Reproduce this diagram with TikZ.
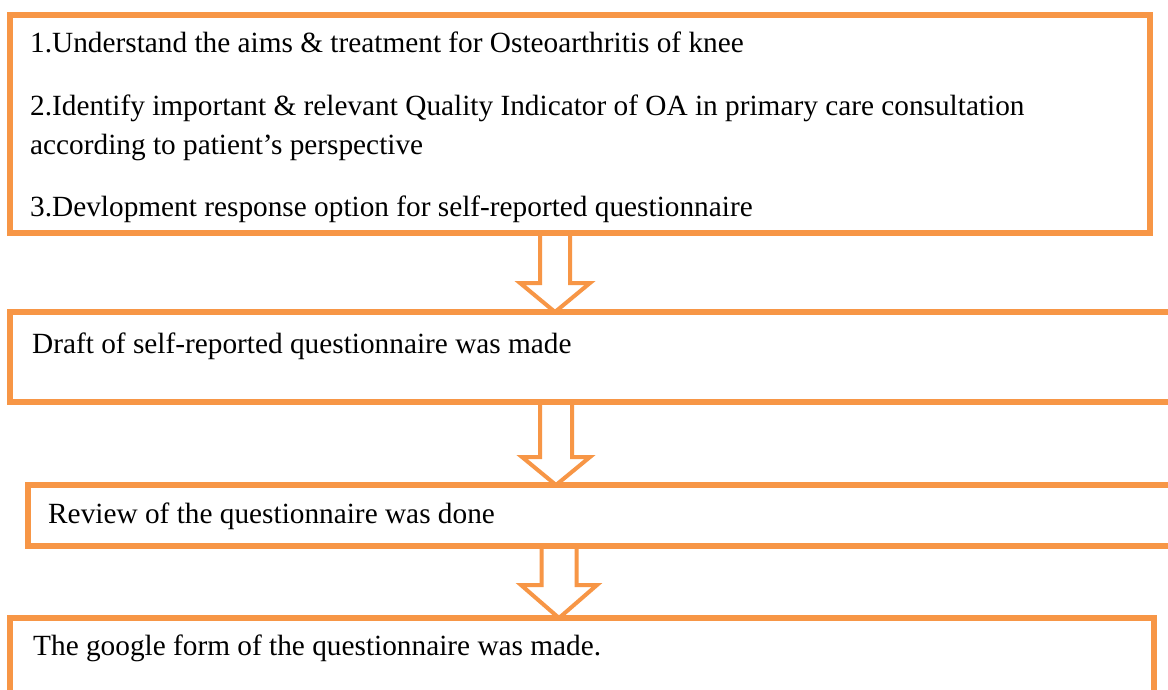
\documentclass[tikz,border=0pt]{standalone}
\usepackage{fontspec}
\setmainfont{Liberation Serif}
\newfontfamily\timesfont{Liberation Serif}
\usetikzlibrary{calc}
\definecolor{boxorange}{HTML}{F79646}
\tikzset{
  flowbox/.style={draw=boxorange, line width=6pt, rectangle, inner sep=0pt, outer sep=0pt, fill=none},
  flowtext/.style={anchor=base west, inner sep=0pt, font=\timesfont\fontsize{29.3}{34}\selectfont, text=black},
  blockarrow/.style={draw=boxorange, line width=4pt, fill=white, line join=miter}
}
% #1 x, #2 from node, #3 to node, #4 half shaft, #5 half head, #6 head length
\newcommand{\myblockarrow}[6]{%
  \path (#1,0) coordinate (ax);
  \draw[blockarrow]
    ($(ax |- #2.south)+(-#4,0)$) -- ($(ax |- #3.north)+(-#4,-#6)$) -- ($(ax |- #3.north)+(-#5,-#6)$)
    -- (ax |- #3.north) -- ($(ax |- #3.north)+(#5,-#6)$) -- ($(ax |- #3.north)+(#4,-#6)$)
    -- ($(ax |- #2.south)+(#4,0)$);
}
\begin{document}
\begin{tikzpicture}[x=1pt,y=-1pt]
\useasboundingbox (0,0) rectangle (1168,689);
\clip (0,0) rectangle (1168,689);
\fill[white] (0,0) rectangle (1168,689);
% boxes
\path node[flowbox, minimum width=1140pt, minimum height=218pt] (b1) at (580,124) {};
\path node[flowbox, minimum width=1180pt, minimum height=90pt] (b2) at (600,357) {};
\path node[flowbox, minimum width=1162pt, minimum height=61pt] (b3) at (609,515.5) {};
\path node[flowbox, minimum width=1144pt, minimum height=102pt] (b4) at (582,669) {};
% arrows
\myblockarrow{555}{b1}{b2}{15}{35}{29}
\myblockarrow{556}{b2}{b3}{16}{34}{28}
\myblockarrow{559}{b3}{b4}{17.5}{38}{33}
% redraw box borders on top of arrows
\draw[boxorange, line width=6pt] (b1.north west) rectangle (b1.south east);
\draw[boxorange, line width=6pt] (b2.north west) rectangle (b2.south east);
\draw[boxorange, line width=6pt] (b3.north west) rectangle (b3.south east);
\draw[boxorange, line width=6pt] (b4.north west) rectangle (b4.south east);
% texts
\node[flowtext] (t1a) at (30,52) {1.Understand the aims \& treatment for Osteoarthritis of knee};
\node[flowtext] (t1b) at (30,115) {2.Identify important \& relevant Quality Indicator of OA in primary care consultation};
\node[flowtext] (t1c) at (30,154) {according to patient’s perspective};
\node[flowtext] (t1d) at (30,216) {3.Devlopment response option for self-reported questionnaire};
\node[flowtext] (t2) at (32,353) {Draft of self-reported questionnaire was made};
\node[flowtext] (t3) at (48,523) {Review of the questionnaire was done};
\node[flowtext] (t4) at (33,655) {The google form of the questionnaire was made.};
\end{tikzpicture}
\end{document}
